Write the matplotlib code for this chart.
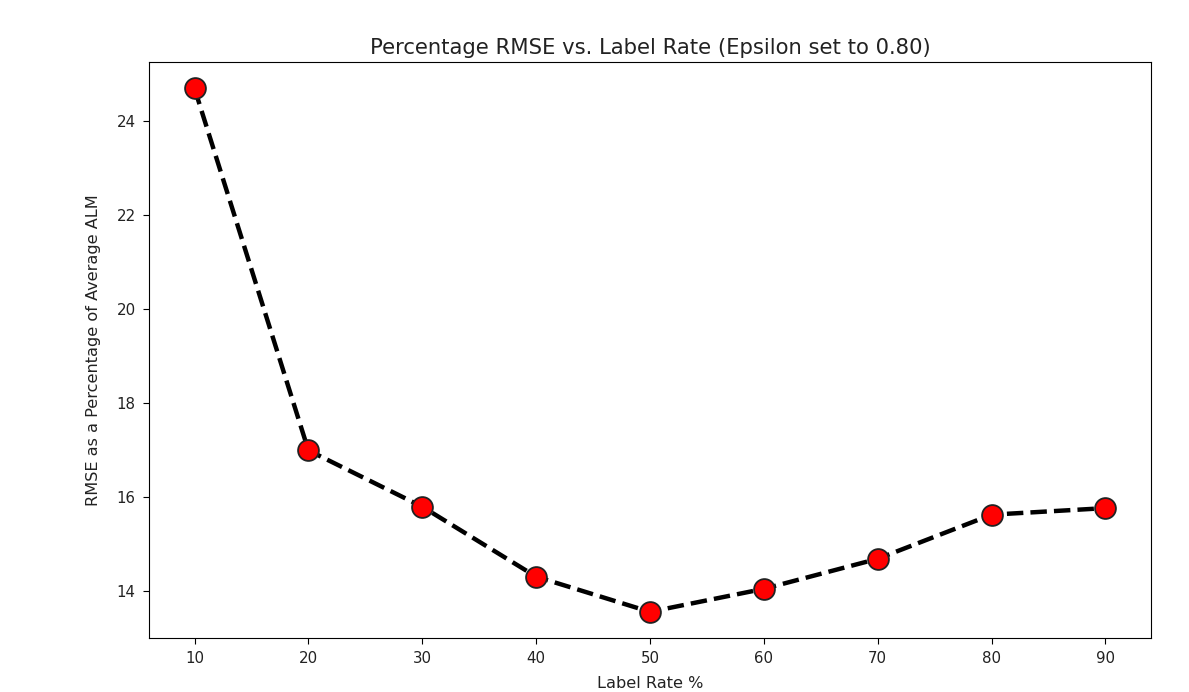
import numpy as np
import matplotlib.pyplot as plt

# label rate (%) and RMSE as percentage of average ALM
label_rate = [10, 20, 30, 40, 50, 60, 70, 80, 90]
rmse_pct = [24.70, 16.99, 15.79, 14.30, 13.55, 14.04, 14.68, 15.62, 15.76]

fig = plt.figure(figsize=(11.89, 6.92), dpi=100)
ax = fig.add_axes([0.1253, 0.078, 0.968 - 0.1253, 0.910 - 0.078])
ax.plot(label_rate, rmse_pct, "k--", linewidth=3.2, marker="o", markersize=15,
        markerfacecolor="red", markeredgecolor="#222222", markeredgewidth=1.3)

ax.set_title("Percentage RMSE vs. Label Rate (Epsilon set to 0.80)", fontsize=15.2, color="#222222")
ax.set_xlabel("Label Rate %", fontsize=11.6, labelpad=7, color="#222222")
ax.set_ylabel("RMSE as a Percentage of Average ALM", fontsize=11.6, labelpad=11, color="#222222")
ax.tick_params(labelsize=10.8, length=4.5, pad=5, labelcolor="#222222")

fig.savefig("out.png", dpi=100)
